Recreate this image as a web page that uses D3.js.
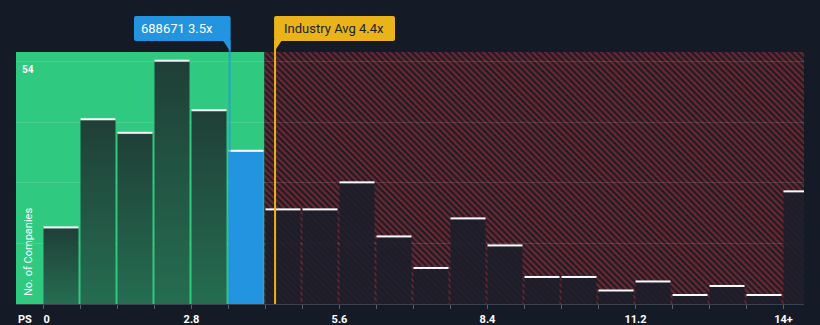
<!DOCTYPE html>
<html>
<head>
<meta charset="utf-8">
<script src="https://cdn.jsdelivr.net/npm/d3@7"></script>
<style>
  html, body { margin: 0; padding: 0; background: #151b26; }
  svg { display: block; }
  text { font-family: Roboto, "Open Sans", sans-serif; }
</style>
</head>
<body>
<svg id="chart" width="820" height="325"></svg>
<script>
// ---- data ----
const binStarts = [0, 0.7, 1.4, 2.1, 2.8, 3.5, 4.2, 4.9, 5.6, 6.3, 7.0, 7.7, 8.4, 9.1, 9.8, 10.5, 11.2, 11.9, 12.6, 13.3, 14.0];
const counts    = [17, 41, 38, 54, 43, 34, 21, 21, 27, 15, 8, 19, 13, 6, 6, 3, 5, 2, 4, 2, 25];
const binWidth = 0.7;
const tickValues = [0, 2.8, 5.6, 8.4, 11.2, 14];
const tickLabels = ["0", "2.8", "5.6", "8.4", "11.2", "14+"];
const yTicks = [13.5, 27, 40.5, 54];
const yLabelTicks = [54];
const companyPS = 3.54;
const companyLabel = "688671 3.5x";
const industryPS = 4.4;
const industryLabel = "Industry Avg 4.4x";
const fairMax = 4.2;

// ---- layout ----
const plot = { left: 16, right: 804, top: 52, bottom: 304 };
const svg = d3.select("#chart");

const x = d3.scaleLinear().domain([0, 14]).range([42.5, 782.5]);
const y = d3.scaleLinear().domain([0, 54]).range([plot.bottom, 60.7]);

const defs = svg.append("defs");
const P = 4.4;
const pat = defs.append("pattern")
  .attr("id", "hatch").attr("patternUnits", "userSpaceOnUse")
  .attr("width", P).attr("height", P)
  .attr("patternTransform", "rotate(-45)");
pat.append("rect").attr("width", P).attr("height", P).attr("fill", "#1c1d27");
pat.append("rect").attr("x", 0).attr("width", P / 2).attr("height", P).attr("fill", "#6e2630");

const grad = defs.append("linearGradient").attr("id", "greenBar")
  .attr("x1", 0).attr("y1", 0).attr("x2", 0).attr("y2", 1);
grad.append("stop").attr("offset", "0%").attr("stop-color", "#1f3f37");
grad.append("stop").attr("offset", "100%").attr("stop-color", "#256d51");

defs.append("clipPath").attr("id", "plotClip").append("rect")
  .attr("x", plot.left).attr("y", plot.top)
  .attr("width", plot.right - plot.left).attr("height", plot.bottom - plot.top);

// regions
svg.append("rect")
  .attr("x", plot.left).attr("y", plot.top)
  .attr("width", x(fairMax) - plot.left).attr("height", plot.bottom - plot.top)
  .attr("fill", "#2fc980");
svg.append("rect")
  .attr("x", x(fairMax)).attr("y", plot.top)
  .attr("width", plot.right - x(fairMax)).attr("height", plot.bottom - plot.top)
  .attr("fill", "url(#hatch)");

// gridlines
svg.append("g").selectAll("line").data(yTicks).join("line")
  .attr("x1", plot.left).attr("x2", plot.right)
  .attr("y1", d => Math.round(y(d)) + 0.5).attr("y2", d => Math.round(y(d)) + 0.5)
  .attr("stroke", "#ffffff").attr("stroke-opacity", 0.12).attr("stroke-width", 1);

// bars
const bars = svg.append("g").attr("clip-path", "url(#plotClip)");
const bw = x(binWidth) - x(0);
bars.selectAll("rect.bar").data(binStarts).join("rect")
  .attr("class", "bar")
  .attr("x", d => x(d) + 1)
  .attr("y", (d, i) => y(counts[i]))
  .attr("width", bw - 2)
  .attr("height", (d, i) => plot.bottom - y(counts[i]))
  .attr("fill", d => {
    if (Math.abs(d - 3.5) < 1e-6) return "#2394df";
    if (d < fairMax - 1e-6) return "url(#greenBar)";
    return "#1b1e2a";
  })
  .attr("fill-opacity", d => d < fairMax - 1e-6 ? 1 : 0.88);
bars.selectAll("rect.top").data(binStarts).join("rect")
  .attr("class", "top")
  .attr("x", d => x(d) + 1)
  .attr("y", (d, i) => y(counts[i]) - 1)
  .attr("width", bw - 2)
  .attr("height", 2)
  .attr("fill", "#ffffff");

// y labels
svg.append("g").selectAll("text").data(yLabelTicks).join("text")
  .attr("x", 22).attr("y", d => y(d) + 12)
  .attr("fill", "#ffffff").attr("font-size", 10).attr("font-weight", 700)
  .text(d => d);
svg.append("text")
  .attr("transform", `translate(32, 296) rotate(-90)`)
  .attr("fill", "#ffffff").attr("font-size", 11)
  .text("No. of Companies");

// x axis
svg.append("line")
  .attr("x1", plot.left).attr("x2", plot.right)
  .attr("y1", plot.bottom + 0.5).attr("y2", plot.bottom + 0.5)
  .attr("stroke", "#3b414d").attr("stroke-width", 1);
svg.append("g").selectAll("line").data(binStarts).join("line")
  .attr("x1", d => Math.round(x(d)) + 0.5).attr("x2", d => Math.round(x(d)) + 0.5)
  .attr("y1", plot.bottom + 1).attr("y2", plot.bottom + 5)
  .attr("stroke", "#5a606b");
svg.append("g").selectAll("text").data(tickValues).join("text")
  .attr("x", d => x(d) + 1).attr("y", 323)
  .attr("text-anchor", (d, i) => i === 0 ? "start" : "middle")
  .attr("fill", "#ffffff").attr("font-size", 11).attr("font-weight", 700)
  .text((d, i) => tickLabels[i]);
svg.append("text").attr("x", 18).attr("y", 323)
  .attr("fill", "#ffffff").attr("font-size", 11).attr("font-weight", 700)
  .text("PS");

// markers
const cx = x(companyPS), ix = x(industryPS);
svg.append("line").attr("x1", cx).attr("x2", cx).attr("y1", 41).attr("y2", plot.bottom)
  .attr("stroke", "#2394df").attr("stroke-width", 2).attr("stroke-opacity", 0.7);
svg.append("line").attr("x1", ix).attr("x2", ix).attr("y1", 41).attr("y2", plot.bottom)
  .attr("stroke", "#eab31a").attr("stroke-width", 2);

// company label
const cg = svg.append("g");
cg.append("rect").attr("x", 134).attr("y", 16).attr("width", cx + 1 - 134).attr("height", 25)
  .attr("rx", 2).attr("fill", "#2394df");
cg.append("path").attr("d", `M${cx - 7},40 L${cx + 1},40 L${cx + 1},52 Z`).attr("fill", "#2394df");
cg.append("text").attr("x", 141).attr("y", 33).attr("fill", "#ffffff").attr("font-size", 13)
  .text(companyLabel);

// industry label
const ig = svg.append("g");
ig.append("rect").attr("x", ix - 1).attr("y", 16).attr("width", 396 - ix).attr("height", 25)
  .attr("rx", 2).attr("fill", "#eab31a");
ig.append("path").attr("d", `M${ix - 1},40 L${ix + 7},40 L${ix - 1},52 Z`).attr("fill", "#eab31a");
ig.append("text").attr("x", ix + 9).attr("y", 33).attr("fill", "#1b1f29").attr("font-size", 13)
  .text(industryLabel);
</script>
</body>
</html>
